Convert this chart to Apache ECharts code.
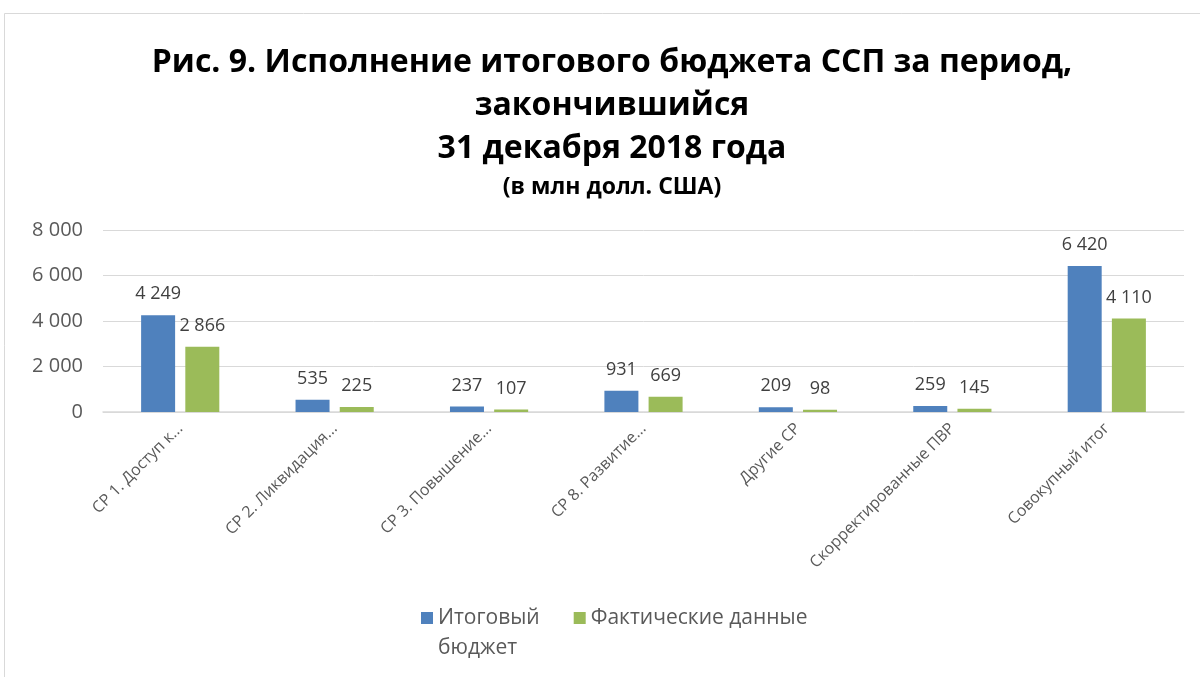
<!DOCTYPE html>
<html>
<head>
<meta charset="utf-8">
<script src="https://cdn.jsdelivr.net/npm/echarts@6/dist/echarts.min.js"></script>
<style>
html, body { margin: 0; padding: 0; background: #fff; }
#chart { width: 1200px; height: 677px; }
</style>
</head>
<body>
<div id="chart"></div>
<script>
var categories = ['СР 1. Доступ к...', 'СР 2. Ликвидация...', 'СР 3. Повышение...', 'СР 8. Развитие...', 'Другие СР', 'Скорректированные ПВР', 'Совокупный итог'];
var budget = [4249, 535, 237, 931, 209, 259, 6420];
var actual = [2866, 225, 107, 669, 98, 145, 4110];
var seriesNames = ['Итоговый бюджет', 'Фактические данные'];

var chart = echarts.init(document.getElementById('chart'));

function fmt(v) {
	return String(v).replace(/\B(?=(\d{3})+(?!\d))/g, ' ');
}

var barLabel = {
	show: true,
	position: 'top',
	distance: 12,
	color: '#404040',
	fontSize: 18,
	fontFamily: 'Open Sans',
	formatter: function(p) { return fmt(p.value); }
};

var option = {
	backgroundColor: '#fff',
	textStyle: { fontFamily: 'Open Sans' },
	graphic: [{
		type: 'rect',
		shape: { x: 4.5, y: 13.5, width: 1300, height: 800 },
		style: { fill: 'none', stroke: '#d9d9d9', lineWidth: 1 },
		silent: true
	}],
	title: {
		text: 'Рис. 9. Исполнение итогового бюджета ССП за период,\nзакончившийся\n31 декабря 2018 года',
		subtext: '(в млн долл. США)',
		left: 607,
		textAlign: 'center',
		top: 36,
		itemGap: 2,
		textStyle: { fontSize: 32, fontWeight: 'bold', color: '#000', lineHeight: 43, fontFamily: 'Open Sans' },
		subtextStyle: { fontSize: 23, fontWeight: 'bold', color: '#000', lineHeight: 30, fontFamily: 'Open Sans' }
	},
	legend: {
		data: seriesNames,
		left: 416,
		top: 568,
		itemWidth: 12,
		itemHeight: 12,
		itemGap: 34,
		icon: 'rect',
		// first item wraps onto two lines; pad a blank line above so the icon sits by the first line
		formatter: function(name) {
			return name === seriesNames[0] ? ' \nИтоговый\nбюджет' : name;
		},
		textStyle: { fontSize: 21, color: '#595959', fontFamily: 'Open Sans', lineHeight: 30 }
	},
	grid: { left: 103, right: 16, top: 230, bottom: 265 },
	xAxis: {
		type: 'category',
		data: categories,
		axisLine: { lineStyle: { color: '#d9d9d9', width: 1.5 } },
		axisTick: { show: false },
		axisLabel: { rotate: 45, interval: 0, color: '#595959', fontSize: 16, margin: 14, fontFamily: 'Open Sans' }
	},
	yAxis: {
		type: 'value',
		min: 0,
		max: 8000,
		interval: 2000,
		axisLine: { show: false },
		axisTick: { show: false },
		splitLine: { lineStyle: { color: '#d9d9d9' } },
		axisLabel: { color: '#595959', fontSize: 20, margin: 20, fontFamily: 'Open Sans', formatter: fmt }
	},
	series: [{
		name: seriesNames[0],
		type: 'bar',
		data: budget,
		barWidth: 34,
		barGap: '30%',
		itemStyle: { color: '#4f81bd' },
		label: barLabel
	}, {
		name: seriesNames[1],
		type: 'bar',
		data: actual,
		barWidth: 34,
		itemStyle: { color: '#9bbb59' },
		label: barLabel
	}]
};

chart.setOption(option);
</script>
</body>
</html>
